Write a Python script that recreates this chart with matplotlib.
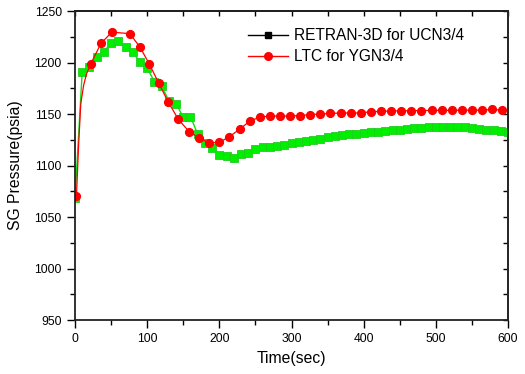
import numpy as np
import matplotlib
matplotlib.use('Agg')
import matplotlib.pyplot as plt
from matplotlib.lines import Line2D

plt.rcParams['font.family'] = ['Liberation Sans', 'DejaVu Sans']

# RETRAN-3D for UCN3/4 (drawn green)
t_retran = [0, 10, 20, 30, 40, 50, 60, 70, 80, 90, 100, 110, 120, 130, 140, 150,
            160, 170, 180, 190, 200, 210, 220, 230, 240, 250, 260, 270, 280, 290,
            300, 310, 320, 330, 340, 350, 360, 370, 380, 390, 400, 410, 420, 430,
            440, 450, 460, 470, 480, 490, 500, 510, 520, 530, 540, 550, 560, 570,
            580, 590, 600]
p_retran = [1068, 1191, 1196, 1205, 1210.5, 1219, 1221, 1215, 1210, 1200.5, 1194.5,
            1181.5, 1177, 1163, 1160, 1147, 1147.5, 1130.5, 1121.5, 1117, 1110,
            1109.5, 1107, 1111, 1112.5, 1116.5, 1117.5, 1118.3, 1119.2, 1120.3,
            1121.5, 1122.5, 1123.5, 1124.8, 1126, 1127.3, 1128.5, 1129.5, 1130.3,
            1131, 1131.8, 1132.3, 1132.8, 1133.2, 1134, 1134.8, 1135.5, 1136,
            1136.5, 1137.2, 1137.7, 1137.8, 1137.8, 1137.6, 1137, 1136.2, 1135.3,
            1134.6, 1134, 1133.5, 1132.5]

# LTC for YGN3/4
t_ltc = [2, 5, 8, 12, 16, 22, 36, 51, 76, 90, 103, 116, 129, 143, 158, 172, 186,
         200, 213, 229, 242, 256, 270, 284, 298, 312, 326, 340, 354, 368, 382, 396,
         410, 424, 438, 452, 466, 480, 494, 508, 522, 536, 550, 564, 578, 592]
p_ltc = [1070, 1120, 1160, 1178, 1189, 1199, 1218.5, 1229.5, 1228, 1215, 1198.5,
         1180, 1162, 1145, 1133, 1126.5, 1122, 1122.5, 1127.5, 1135.7, 1143, 1147,
         1148, 1148, 1148, 1148.5, 1149.5, 1150, 1150.5, 1151, 1151, 1151, 1152.3,
         1152.5, 1153, 1153, 1153.3, 1153.3, 1153.5, 1153.5, 1153.5, 1153.7, 1153.7,
         1153.7, 1154.4, 1153.8]
ltc_marks = [0] + list(range(5, len(t_ltc)))

fig = plt.figure(figsize=(5.25, 3.74), dpi=100)
ax = fig.add_axes([75/525, 1-320/374, 433/525, 309/374])

ax.plot(t_retran, p_retran, color='#11dd11', linewidth=1.0, marker='s',
        markersize=5.2, markerfacecolor='#00ee00', markeredgecolor='#22cc22',
        markeredgewidth=0.6)
ax.plot(t_ltc, p_ltc, color='#ff0000', linewidth=0.9, marker='o', markersize=5.6,
        markerfacecolor='#ff0000', markeredgecolor='#ff0000', markevery=ltc_marks)

ax.set_xlim(0, 600)
ax.set_ylim(950, 1250)
ax.set_xticks(range(0, 601, 100))
ax.set_xticks(range(50, 600, 100), minor=True)
ax.set_yticks(range(950, 1251, 50))
ax.set_yticks(range(975, 1250, 50), minor=True)
ax.tick_params(which='major', direction='out', length=6, width=1.0, labelsize=8.7,
               top=False, right=False)
ax.tick_params(which='minor', direction='out', length=3.5, width=1.0,
               top=False, right=False)

top = ax.secondary_xaxis('top')
top.set_xticks(range(0, 601, 50))
top.tick_params(direction='in', length=3.5, width=1.0, labeltop=False)
right = ax.secondary_yaxis('right')
right.set_yticks(range(950, 1251, 25))
right.tick_params(direction='in', length=3.5, width=1.0, labelright=False)

for s in ax.spines.values():
    s.set_linewidth(1.3)
    s.set_color('#222222')
top.spines['top'].set_linewidth(1.3)
right.spines['right'].set_linewidth(1.3)
right.spines['right'].set_color('#555555')

ax.set_xlabel('Time(sec)', fontsize=11.3, labelpad=4)
ax.set_ylabel('SG Pressure(psia)', fontsize=11.3, labelpad=8)

handles = [Line2D([], [], color='black', linewidth=1.0, marker='s', markersize=5),
           Line2D([], [], color='#ff0000', linewidth=1.0, marker='o', markersize=5.5)]
ax.legend(handles, ['RETRAN-3D for UCN3/4', 'LTC for YGN3/4'], loc='upper left',
          bbox_to_anchor=((248-75)/433, 1-(28-11)/309), frameon=False,
          fontsize=11.2, borderpad=0, borderaxespad=0, handlelength=2.6,
          handletextpad=0.35, labelspacing=0.4)

plt.savefig('out.png', dpi=100)
plt.close()
